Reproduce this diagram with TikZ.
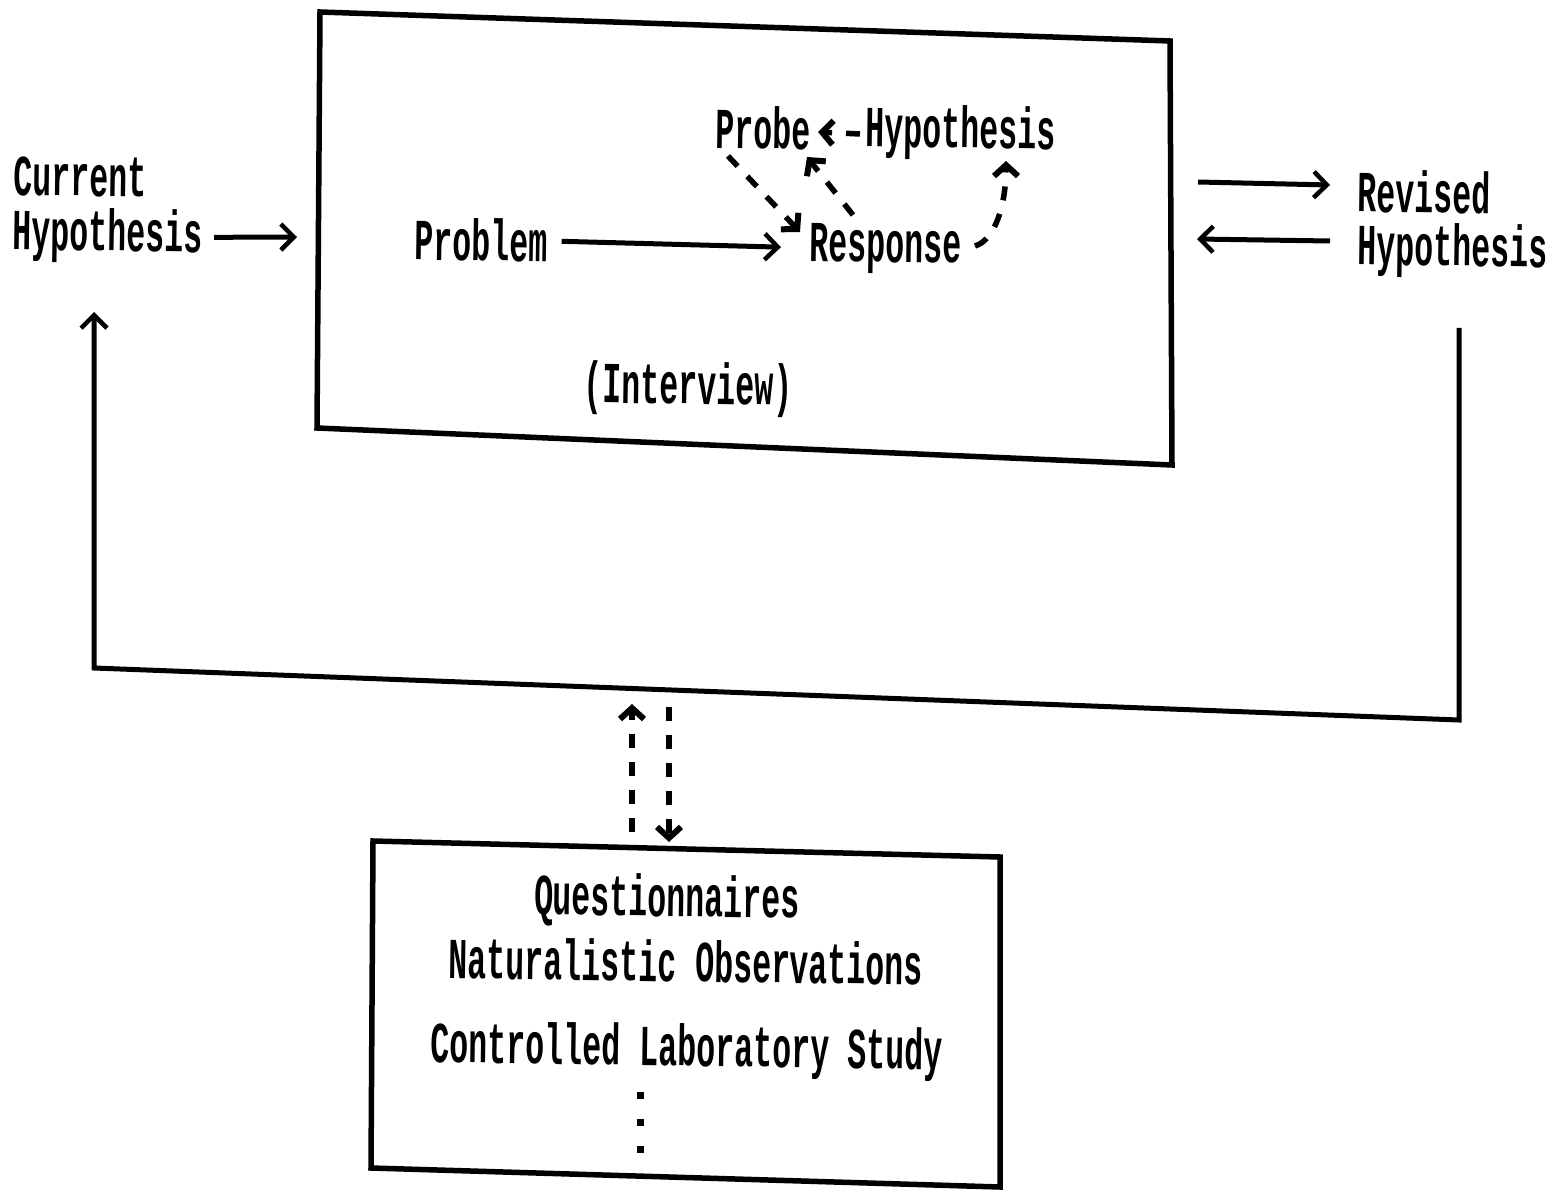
\documentclass[tikz,border=0pt]{standalone}
\usepackage{fontspec}
\usetikzlibrary{arrows.meta}
\newfontfamily\typed[FakeStretch=0.545]{Liberation Mono Bold}
\tikzset{
  txt/.style={font=\typed\fontsize{58}{62}\selectfont,inner sep=0pt,text=black,rotate=-0.8,align=center},
  boxline/.style={line width=5.5pt,line join=miter,draw=black},
  solidarrow/.style={line width=5pt,-{Straight Barb[length=13pt,width=26pt,line width=4.5pt]}},
  feedback/.style={line width=5pt,line join=miter,-{Straight Barb[length=13pt,width=26pt,line width=4.5pt]}},
  dasharrow/.style={line width=5.5pt,dash pattern=on 14pt off 14pt,-{Straight Barb[length=11pt,width=24pt,line width=6pt]}},
}
\begin{document}
\begin{tikzpicture}[x=1pt,y=-1pt]
\useasboundingbox[fill=white] (0,0) rectangle (1564,1190);
% boxes
\coordinate (ia) at (320,12); \coordinate (ib) at (1170,41);
\coordinate (ic) at (1172,465); \coordinate (id) at (317,428);
\draw[boxline] (ia) -- (ib) -- (ic) -- (id) -- cycle;
\coordinate (la) at (373,841); \coordinate (lb) at (1000,857);
\coordinate (lc) at (1000,1187); \coordinate (ld) at (371,1168);
\draw[boxline] (la) -- (lb) -- (lc) -- (ld) -- cycle;
% texts
\node[txt] (cur) at (80,177) {Current};
\node[txt] (curh) at (108,236) {Hypothesis};
\node[txt] (prob) at (481,240) {Problem};
\node[txt] (resp) at (886,249) {Response};
\node[txt] (probe) at (763,128) {Probe};
\node[txt] (hyp) at (961,133) {Hypothesis};
\node[txt] (intv) at (688,389) {(Interview)};
\node[txt] (rev) at (1424,192) {Revised};
\node[txt] (revh) at (1453,251) {Hypothesis};
\node[txt] (q) at (667,901) {Questionnaires};
\node[txt] (n) at (686,961) {Naturalistic Observations};
\node[txt] (c) at (687,1051) {Controlled Laboratory Study};
% free ends
\coordinate (cin) at (297,237);
\coordinate (rev1) at (1198,182); \coordinate (rev2) at (1330,185);
\coordinate (rev3) at (1330,241); \coordinate (rev4) at (1197,239);
\coordinate (fa) at (1459,328); \coordinate (fb) at (1459,720);
\coordinate (fc) at (94,668); \coordinate (fd) at (94,312);
\coordinate (u1) at (632,832); \coordinate (u2) at (632,704);
\coordinate (d1) at (669,707); \coordinate (d2) at (669,842);
\coordinate (pa) at (728,156); \coordinate (pb) at (800,232);
\coordinate (ra) at (853,215); \coordinate (rb) at (807,157);
\coordinate (sa) at (975,246); \coordinate (sb) at (1006,161);
\coordinate (ha) at (860,134); \coordinate (hb) at (818,132);
\coordinate (ea) at (640,1092); \coordinate (eb) at (640,1155);
% connectors
\draw[solidarrow] (curh.east) ++(11,0) -- (cin);
\draw[solidarrow,shorten <=14pt,shorten >=29pt] (prob.east) -- (resp.west);
\draw[solidarrow] (rev1) -- (rev2);
\draw[solidarrow] (rev3) -- (rev4);
\draw[feedback] (fa) -- (fb) -- (fc) -- (fd);
\draw[dasharrow] (pa) -- (pb);
\draw[dasharrow] (ra) -- (rb);
\draw[dasharrow] (sa) .. controls (995,240) and (1006,205) .. (sb);
\draw[dasharrow] (ha) -- (hb);
\draw[dasharrow] (u1) -- (u2);
\draw[dasharrow] (d1) -- (d2);
\draw[line width=7pt,dash pattern=on 7pt off 20pt] (ea) -- (eb);
\end{tikzpicture}
\end{document}
